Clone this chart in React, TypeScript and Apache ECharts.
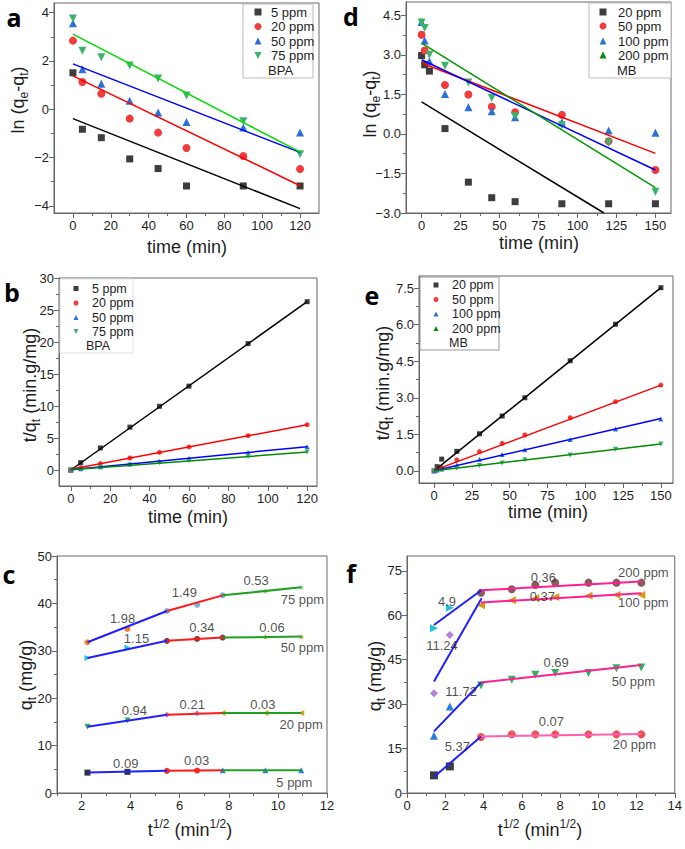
import React, { useEffect, useRef } from "react";
import * as echarts from "echarts";

const FONT = '"Liberation Sans", Arial, Helvetica, sans-serif';
const INK = "#1e1e1e";
const AXIS = "#666666";

// ---------- Panel a : BPA, ln(qe-qt) vs time ----------
const timeA = [0, 5, 15, 30, 45, 60, 90, 120];
const lnA5 = [1.51, -0.83, -1.18, -2.06, -2.46, -3.18, -3.18, -3.18];
const lnA20 = [2.84, 1.13, 0.64, -0.39, -0.97, -1.61, -1.94, -2.48];
const lnA50 = [3.56, 1.66, 1.05, 0.35, -0.14, -0.53, -0.76, -0.97];
const lnA75 = [3.76, 2.42, 2.15, 1.81, 1.27, 0.57, -0.5, -1.87];
const fitA5 = [[0, -0.39], [120, -4.12]];
const fitA20 = [[0, 1.38], [120, -3.17]];
const fitA50 = [[0, 1.88], [120, -1.79]];
const fitA75 = [[0, 3.11], [120, -1.77]];

// ---------- Panel b : BPA, t/qt vs time ----------
const timeB = [0, 5, 15, 30, 45, 60, 90, 120];
const tqB5 = [0, 1.15, 3.45, 6.7, 9.95, 13.1, 19.75, 26.3];
const tqB20 = [0, 0.36, 1.0, 1.87, 2.75, 3.6, 5.36, 7.08];
const tqB50 = [0, 0.18, 0.49, 0.94, 1.38, 1.83, 2.75, 3.64];
const tqB75 = [0, 0.15, 0.42, 0.79, 1.15, 1.47, 2.1, 2.8];
const fitB5 = [[0, 0], [120, 26.3]];
const fitB20 = [[0, 0.1], [120, 7.08]];
const fitB50 = [[0, 0.05], [120, 3.64]];
const fitB75 = [[0, 0.05], [120, 2.8]];

// ---------- Panel c : BPA, intraparticle diffusion ----------
const sqrtC = [2.24, 3.87, 5.48, 6.71, 7.75, 9.49, 10.95];
const qC75 = [31.8, 34.6, 38.4, 39.7, 41.7, 42.6, 43.4];
const qC50 = [28.5, 30.7, 32.1, 32.5, 32.8, 33.0, 33.0];
const qC20 = [14.0, 15.3, 16.5, 16.8, 16.9, 16.9, 16.9];
const qC5 = [4.3, 4.46, 4.67, 4.74, 4.8, 4.8, 4.8];
const notesC: [number, number, string][] = [
  [3.67, 36.9, "1.98"], [6.19, 42.2, "1.49"], [9.11, 44.8, "0.53"], [11.0, 40.8, "75 ppm"],
  [4.24, 32.7, "1.15"], [6.9, 34.9, "0.34"], [9.76, 34.9, "0.06"], [11.0, 30.8, "50 ppm"],
  [4.15, 17.4, "0.94"], [6.51, 18.6, "0.21"], [9.39, 18.6, "0.03"], [10.95, 14.4, "20 ppm"],
  [3.8, 6.2, "0.09"], [6.69, 6.8, "0.03"], [10.67, 2.3, "5 ppm"],
];

// ---------- Panel d : MB, ln(qe-qt) vs time ----------
const timeD = [0, 2, 5, 15, 30, 45, 60, 90, 120, 150];
const lnD20 = [2.97, 2.62, 2.38, 0.2, -1.83, -2.42, -2.57, -2.65, -2.65, -2.65];
const lnD50 = [3.76, 3.16, null, 1.85, 1.49, 1.03, 0.82, 0.72, -0.28, -1.37];
const lnD100 = [4.24, 3.54, 2.75, 1.51, 1.01, 0.86, 0.63, 0.44, 0.13, 0.04];
const lnD200 = [4.22, 4.01, 3.0, 2.58, 1.95, 1.36, 0.67, 0.33, -0.34, -2.19];
const fitD20 = [[0, 1.21], [117, -3.0]];
const fitD50 = [[0, 2.69], [150, -0.74]];
const fitD100 = [[0, 2.81], [150, -1.37]];
const fitD200 = [[0, 3.44], [150, -2.04]];

// ---------- Panel e : MB, t/qt vs time ----------
const timeE = [0, 2, 5, 15, 30, 45, 60, 90, 120, 150];
const tqE20 = [0, 0.17, 0.48, 0.8, 1.52, 2.25, 3.0, 4.52, 6.02, 7.52];
const tqE50 = [0, 0.05, 0.13, 0.45, 0.79, 1.13, 1.47, 2.18, 2.84, 3.52];
const tqE100 = [0, 0.03, 0.08, 0.24, 0.48, 0.67, 0.87, 1.29, 1.72, 2.13];
const tqE200 = [0, 0.02, 0.04, 0.11, 0.22, 0.32, 0.45, 0.65, 0.89, 1.1];
const fitE20 = [[0, 0], [150, 7.52]];
const fitE50 = [[0, 0.02], [150, 3.52]];
const fitE100 = [[0, 0], [150, 2.15]];
const fitE200 = [[0, 0], [150, 1.1]];

// ---------- Panel f : MB, intraparticle diffusion ----------
const sqrtF = [1.41, 2.24, 3.87, 5.48, 6.71, 7.75, 9.49, 10.95, 12.25];
const qF20 = [5.95, 8.98, 18.9, 19.8, 19.8, 19.8, 19.8, 19.8, 19.8];
const qF50 = [19.3, 29.2, 36.3, 38.2, 39.9, 40.5, 40.5, 42.1, 42.4];
const qF100 = [33.7, 53.3, 63.4, 65.1, 65.7, 66.2, 66.6, 66.8, 66.8];
const qF200 = [55.6, 62.5, 67.6, 68.8, 70.2, 71.0, 71.0, 71.0, 71.0];
const fitF20a = [[1.41, 5.4], [3.87, 19.1]];
const fitF20b = [[3.87, 19.1], [12.25, 19.9]];
const fitF50a = [[1.41, 20.8], [3.87, 37.3]];
const fitF50b = [[3.87, 37.3], [12.25, 43.2]];
const fitF100a = [[1.41, 37.6], [3.9, 65.7]];
const fitF100b = [[3.87, 64.3], [12.25, 67.4]];
const fitF200a = [[1.41, 56.7], [3.9, 68.5]];
const fitF200b = [[3.87, 68.4], [12.25, 71.4]];
const notesF: [number, number, string][] = [
  [2.09, 64.8, "4.9"], [7.13, 72.8, "0.36"], [12.36, 74.4, "200 ppm"],
  [1.83, 49.9, "11.24"], [7.08, 66.2, "0.37"], [12.36, 64.2, "100 ppm"],
  [2.83, 34.4, "11.72"], [7.8, 43.9, "0.69"], [11.84, 37.5, "50 ppm"],
  [2.63, 15.6, "5.37"], [7.55, 24.0, "0.07"], [11.89, 16.3, "20 ppm"],
];

// ---------- tick values ----------
const ticksTimeA = [0, 20, 40, 60, 80, 100, 120];
const minorTimeA = [10, 30, 50, 70, 90, 110];
const ticksLnA = [-4, -2, 0, 2, 4];
const minorLnA = [-3, -1, 1, 3];
const ticksTqB = [0, 5, 10, 15, 20, 25, 30];
const minorTqB = [2.5, 7.5, 12.5, 17.5, 22.5, 27.5];
const ticksSqrtC = [2, 4, 6, 8, 10, 12];
const minorSqrtC = [1, 3, 5, 7, 9, 11];
const ticksQC = [0, 10, 20, 30, 40, 50];
const minorQC = [5, 15, 25, 35, 45];
const ticksTimeD = [0, 25, 50, 75, 100, 125, 150];
const minorTimeD = [12.5, 37.5, 62.5, 87.5, 112.5, 137.5];
const ticksLnD = [-3, -1.5, 0, 1.5, 3, 4.5];
const minorLnD = [-2.25, -0.75, 0.75, 2.25, 3.75];
const ticksTqE = [0, 1.5, 3, 4.5, 6, 7.5];
const minorTqE = [0.75, 2.25, 3.75, 5.25, 6.75];
const ticksSqrtF = [0, 2, 4, 6, 8, 10, 12, 14];
const minorSqrtF = [1, 3, 5, 7, 9, 11, 13];
const ticksQF = [0, 15, 30, 45, 60, 75];
const minorQF = [7.5, 22.5, 37.5, 52.5, 67.5];

const GRAY = "#3d3d3d";
const RED = "#f23b3b";
const BLUE = "#2a6fdb";
const LGREEN = "#3cb36a";
const DGREEN = "#0a8a0a";

const SHAPES: Record<string, { symbol: string; rotate: number }> = {
  square: { symbol: "rect", rotate: 0 },
  circle: { symbol: "circle", rotate: 0 },
  up: { symbol: "triangle", rotate: 0 },
  down: { symbol: "triangle", rotate: 180 },
  left: { symbol: "triangle", rotate: 90 },
  right: { symbol: "triangle", rotate: -90 },
  diamond: { symbol: "diamond", rotate: 0 },
  star: {
    symbol: "path://M50,0 L61,35 L98,35 L68,57 L79,91 L50,70 L21,91 L32,57 L2,35 L39,35 Z",
    rotate: 0,
  },
};

const fmtInt = (v: number) => (v < 0 ? "\u2212" + Math.abs(v) : String(v));
const fmtDec = (v: number) => (v < 0 ? "\u2212" + Math.abs(v).toFixed(1) : v.toFixed(1));

function scatter(gi: number, xs: number[], ys: (number | null)[], shape: string, color: string, size: number) {
  const s = SHAPES[shape];
  const data: number[][] = [];
  xs.forEach((x, i) => {
    const y = ys[i];
    if (y !== null && y !== undefined) data.push([x, y]);
  });
  return {
    type: "scatter", xAxisIndex: gi * 2, yAxisIndex: gi * 2,
    symbol: s.symbol, symbolRotate: s.rotate, symbolSize: size,
    itemStyle: { color, opacity: 1 }, data, z: 2, silent: true,
  };
}

function line(gi: number, pts: number[][], color: string, width = 1.5) {
  return {
    type: "line", xAxisIndex: gi * 2, yAxisIndex: gi * 2, data: pts,
    symbol: "none", lineStyle: { color, width }, z: 3, silent: true,
  };
}

function notes(gi: number, list: [number, number, string][]) {
  return {
    type: "scatter", xAxisIndex: gi * 2, yAxisIndex: gi * 2, symbolSize: 1,
    itemStyle: { color: "rgba(0,0,0,0)" },
    data: list.map(([x, y, t]) => ({ value: [x, y], name: t })),
    label: { show: true, position: "inside", formatter: "{b}", fontSize: 13, fontFamily: FONT, color: INK },
    z: 6, silent: true,
  };
}

// groups: [fromIndex, toIndex, color, shape]
function segmentedPoints(gi: number, xs: number[], ys: number[], groups: [number, number, string, string][], size: number) {
  return groups.map(([a, b, color, shape]) =>
    scatter(gi, xs.slice(a, b + 1), ys.slice(a, b + 1), shape, color, size)
  );
}
function segmentLines(gi: number, xs: number[], ys: number[], breaks: number[], colors: string[], width: number) {
  const out: any[] = [];
  for (let k = 0; k < breaks.length - 1; k++) {
    const a = breaks[k], b = breaks[k + 1];
    out.push(line(gi, [[xs[a], ys[a]], [xs[b], ys[b]]], colors[k], width));
  }
  return out;
}

function axes(gi: number, xr: [number, number], xMaj: number[], xMin: number[], yr: [number, number], yMaj: number[], yMin: number[], yFmt: (v: number) => string) {
  const common = {
    gridIndex: gi, type: "value", splitLine: { show: false },
  };
  const lab = { fontSize: 13, fontFamily: FONT, color: INK };
  const x = [
    {
      ...common, min: xr[0], max: xr[1], position: "bottom",
      axisLine: { show: true, onZero: false, lineStyle: { color: AXIS, width: 1 } },
      axisTick: { show: true, inside: false, length: 5, customValues: xMaj, lineStyle: { color: AXIS } },
      axisLabel: { ...lab, margin: 6, customValues: xMaj, formatter: fmtInt },
    },
    {
      ...common, min: xr[0], max: xr[1], position: "bottom",
      axisLine: { show: false, onZero: false },
      axisTick: { show: true, inside: false, length: 3, customValues: xMin, lineStyle: { color: AXIS } },
      axisLabel: { show: false },
    },
  ];
  const y = [
    {
      ...common, min: yr[0], max: yr[1], position: "left",
      axisLine: { show: true, onZero: false, lineStyle: { color: AXIS, width: 1 } },
      axisTick: { show: true, inside: false, length: 5, customValues: yMaj, lineStyle: { color: AXIS } },
      axisLabel: { ...lab, margin: 5, customValues: yMaj, formatter: yFmt },
    },
    {
      ...common, min: yr[0], max: yr[1], position: "left",
      axisLine: { show: false, onZero: false },
      axisTick: { show: true, inside: false, length: 3, customValues: yMin, lineStyle: { color: AXIS } },
      axisLabel: { show: false },
    },
  ];
  return { x, y };
}

const RICH = {
  m: { fontSize: 18, fontFamily: FONT, fill: INK, lineHeight: 24 },
  s: { fontSize: 12, fontFamily: FONT, fill: INK, lineHeight: 12, verticalAlign: "bottom" },
  p: { fontSize: 12, fontFamily: FONT, fill: INK, lineHeight: 12, verticalAlign: "top" },
};

function richText(x: number, y: number, text: string, rotate = false) {
  return {
    type: "text", x, y, rotation: rotate ? Math.PI / 2 : 0, z: 20,
    style: { text, rich: RICH, font: `18px ${FONT}`, align: "center", verticalAlign: "middle", fill: INK },
  };
}
function letter(x: number, y: number, t: string) {
  return {
    type: "text", x, y, z: 20,
    style: { text: t, font: `bold 25px "Open Sans", "Noto Sans", sans-serif`, fill: "#000", align: "center", verticalAlign: "middle" },
  };
}
function marker(shape: string, cx: number, cy: number, size: number, color: string) {
  const h = size / 2;
  const st = { fill: color };
  if (shape === "square") return { type: "rect", z: 21, shape: { x: cx - h, y: cy - h, width: size, height: size }, style: st };
  if (shape === "circle") return { type: "circle", z: 21, shape: { cx, cy, r: h }, style: st };
  if (shape === "up") return { type: "polygon", z: 21, shape: { points: [[cx, cy - h], [cx + h, cy + h], [cx - h, cy + h]] }, style: st };
  return { type: "polygon", z: 21, shape: { points: [[cx - h, cy - h], [cx + h, cy - h], [cx, cy + h]] }, style: st };
}
function legend(box: [number, number, number, number], borderColor: string, mx: number, tx: number, rows: number[], items: [string, string, string][], extra: [number, number, string], size: number, fontSize: number) {
  const els: any[] = [
    { type: "rect", z: 19, shape: { x: box[0], y: box[1], width: box[2], height: box[3] }, style: { fill: "#fff", stroke: borderColor, lineWidth: 1 } },
  ];
  items.forEach(([label, shape, color], i) => {
    els.push(marker(shape, mx, rows[i], size, color));
    els.push({ type: "text", x: tx, y: rows[i], z: 21, style: { text: label, font: `${fontSize}px ${FONT}`, fill: INK, align: "left", verticalAlign: "middle" } });
  });
  els.push({ type: "text", x: extra[0], y: extra[1], z: 21, style: { text: extra[2], font: `${fontSize}px ${FONT}`, fill: INK, align: "left", verticalAlign: "middle" } });
  return els;
}

export default function App() {
  const ref = useRef<HTMLDivElement>(null);
  useEffect(() => {
    document.body.style.margin = "0";
    if (!ref.current) return;
    const chart = echarts.init(ref.current, undefined, { renderer: "svg" });

    const grids = [
      { left: 54, top: 3, width: 265, height: 210 },
      { left: 59, top: 278, width: 258, height: 208 },
      { left: 57, top: 556, width: 270, height: 237 },
      { left: 406, top: 2, width: 265, height: 211 },
      { left: 419, top: 276, width: 254, height: 207 },
      { left: 407, top: 556, width: 271, height: 237 },
    ].map((g) => ({ ...g, show: true, borderColor: AXIS, borderWidth: 1, backgroundColor: "transparent" }));

    const ax = [
      axes(0, [-10, 130], ticksTimeA, minorTimeA, [-4.3, 4.4], ticksLnA, minorLnA, fmtInt),
      axes(1, [-6, 125], ticksTimeA, minorTimeA, [-2.5, 30], ticksTqB, minorTqB, fmtInt),
      axes(2, [1, 12], ticksSqrtC, minorSqrtC, [0, 50], ticksQC, minorQC, fmtInt),
      axes(3, [-10, 160], ticksTimeD, minorTimeD, [-3, 5], ticksLnD, minorLnD, fmtDec),
      axes(4, [-10, 158], ticksTimeD, minorTimeD, [-0.5, 8], ticksTqE, minorTqE, fmtDec),
      axes(5, [0, 14], ticksSqrtF, minorSqrtF, [0, 80], ticksQF, minorQF, fmtInt),
    ];
    const xAxis = ax.flatMap((a) => a.x);
    const yAxis = ax.flatMap((a) => a.y);

    const BL = "#1f1fff";
    const RD = "#ff1a1a";
    const GR = "#1fa01f";
    const PK = "#ff1f8f";

    const series: any[] = [
      // a
      scatter(0, timeA, lnA5, "square", GRAY, 7),
      scatter(0, timeA, lnA20, "circle", RED, 8),
      scatter(0, timeA, lnA50, "up", BLUE, 8),
      scatter(0, timeA, lnA75, "down", LGREEN, 8),
      line(0, fitA5, "#000"), line(0, fitA20, "#ff0000"), line(0, fitA50, "#0000ff"), line(0, fitA75, "#00dd00"),
      // b
      scatter(1, timeB, tqB5, "square", GRAY, 5),
      scatter(1, timeB, tqB20, "circle", RED, 5),
      scatter(1, timeB, tqB50, "up", BLUE, 5),
      scatter(1, timeB, tqB75, "down", LGREEN, 5),
      line(1, fitB5, "#000"), line(1, fitB20, "#ff0000"), line(1, fitB50, "#0000ff"), line(1, fitB75, "#008c00"),
      // c
      ...segmentedPoints(2, sqrtC, qC75, [[0, 1, "#ff7f27", "circle"], [2, 4, "#7cb0e0", "circle"], [5, 6, "#86cf86", "star"]], 6),
      ...segmentedPoints(2, sqrtC, qC50, [[0, 1, "#22c4e8", "right"], [2, 4, "#8b3a3a", "circle"], [5, 6, "#a8a020", "star"]], 6),
      ...segmentedPoints(2, sqrtC, qC20, [[0, 1, "#30b060", "down"], [2, 3, "#b87fe0", "diamond"], [4, 6, "#d8a020", "left"]], 6),
      ...segmentedPoints(2, sqrtC, qC5, [[0, 1, "#333333", "square"], [2, 3, "#f03030", "circle"], [4, 6, "#2a7de1", "up"]], 6),
      ...segmentLines(2, sqrtC, qC75, [0, 2, 4, 6], [BL, RD, GR], 2),
      ...segmentLines(2, sqrtC, qC50, [0, 2, 4, 6], [BL, RD, GR], 2),
      ...segmentLines(2, sqrtC, qC20, [0, 2, 4, 6], [BL, RD, GR], 2),
      ...segmentLines(2, sqrtC, qC5, [0, 2, 4, 6], [BL, RD, GR], 2),
      notes(2, notesC),
      // d
      scatter(3, timeD, lnD20, "square", GRAY, 7),
      scatter(3, timeD, lnD50, "circle", RED, 8),
      scatter(3, timeD, lnD100, "up", BLUE, 8),
      scatter(3, timeD, lnD200, "down", LGREEN, 8),
      line(3, fitD20, "#000"), line(3, fitD50, "#ff0000"), line(3, fitD100, "#0000ff"), line(3, fitD200, "#009a00"),
      // e
      scatter(4, timeE, tqE20, "square", GRAY, 5),
      scatter(4, timeE, tqE50, "circle", RED, 5),
      scatter(4, timeE, tqE100, "up", BLUE, 5),
      scatter(4, timeE, tqE200, "down", LGREEN, 5),
      line(4, fitE20, "#000"), line(4, fitE50, "#ff0000"), line(4, fitE100, "#0000ff"), line(4, fitE200, "#008c00"),
      // f
      ...segmentedPoints(5, sqrtF, qF20, [[0, 1, "#3d3d3d", "square"], [2, 8, "#f25050", "circle"]], 8),
      ...segmentedPoints(5, sqrtF, qF50, [[0, 1, "#2a7de1", "up"], [2, 8, "#30b060", "down"]], 8),
      ...segmentedPoints(5, sqrtF, qF100, [[0, 1, "#b87fe0", "diamond"], [2, 8, "#d89a10", "left"]], 8),
      ...segmentedPoints(5, sqrtF, qF200, [[0, 1, "#20c0e0", "right"], [2, 8, "#8b5a5a", "circle"]], 8),
      line(5, fitF20a, BL, 2), line(5, fitF20b, "#ff5fb0", 2),
      line(5, fitF50a, BL, 2), line(5, fitF50b, PK, 2),
      line(5, fitF100a, BL, 2), line(5, fitF100b, PK, 2),
      line(5, fitF200a, BL, 2), line(5, fitF200b, PK, 2),
      notes(5, notesF),
    ];

    const graphic: any[] = [
      letter(14, 17, "a"), letter(12, 292, "b"), letter(9, 574, "c"),
      letter(351, 16, "d"), letter(372, 295, "e"), letter(351, 573, "f"),
      richText(18, 100, "{m|ln (q}{s|e}{m|-q}{s|t}{m|)}", true),
      richText(30, 385, "{m|t/q}{s|t}{m| (min.g/mg)}", true),
      richText(26, 675, "{m|q}{s|t}{m| (mg/g)}", true),
      richText(370, 104, "{m|ln (q}{s|e}{m|-q}{s|t}{m|)}", true),
      richText(383, 383, "{m|t/q}{s|t}{m| (min.g/mg)}", true),
      richText(375, 676, "{m|q}{s|t}{m| (mg/g)}", true),
      richText(187, 247, "{m|time (min)}"),
      richText(188, 517, "{m|time (min)}"),
      richText(190, 830, "{m|t}{p|1/2}{m| (min}{p|1/2}{m|)}"),
      richText(539, 243, "{m|time (min)}"),
      richText(548, 512, "{m|time (min)}"),
      richText(540, 830, "{m|t}{p|1/2}{m| (min}{p|1/2}{m|)}"),
      ...legend([243, 4, 70, 74], "#bbbbbb", 258, 271, [12, 26.5, 41, 55.5],
        [["5 ppm", "square", GRAY], ["20 ppm", "circle", RED], ["50 ppm", "up", BLUE], ["75 ppm", "down", LGREEN]],
        [268, 70, "BPA"], 7, 13),
      ...legend([589, 3, 82, 75], "#bbbbbb", 603, 618, [12, 26, 41, 55],
        [["20 ppm", "square", GRAY], ["50 ppm", "circle", RED], ["100 ppm", "up", BLUE], ["200 ppm", "up", DGREEN]],
        [617, 70, "MB"], 7, 13),
      ...legend([60, 279, 73, 74], "#e2e2e2", 76, 92, [288.5, 303, 317.5, 331.5],
        [["5 ppm", "square", GRAY], ["20 ppm", "circle", RED], ["50 ppm", "up", BLUE], ["75 ppm", "down", LGREEN]],
        [86, 346, "BPA"], 5, 12.5),
      ...legend([420, 277, 79, 73], "#999999", 436, 452, [285, 299.5, 314, 328.5],
        [["20 ppm", "square", GRAY], ["50 ppm", "circle", RED], ["100 ppm", "up", BLUE], ["200 ppm", "up", DGREEN]],
        [449, 343, "MB"], 5, 12.5),
    ];

    chart.setOption({
      animation: false,
      backgroundColor: "#ffffff",
      grid: grids,
      xAxis,
      yAxis,
      series,
      graphic,
    });
    return () => chart.dispose();
  }, []);
  return <div ref={ref} style={{ width: 685, height: 849 }} />;
}
